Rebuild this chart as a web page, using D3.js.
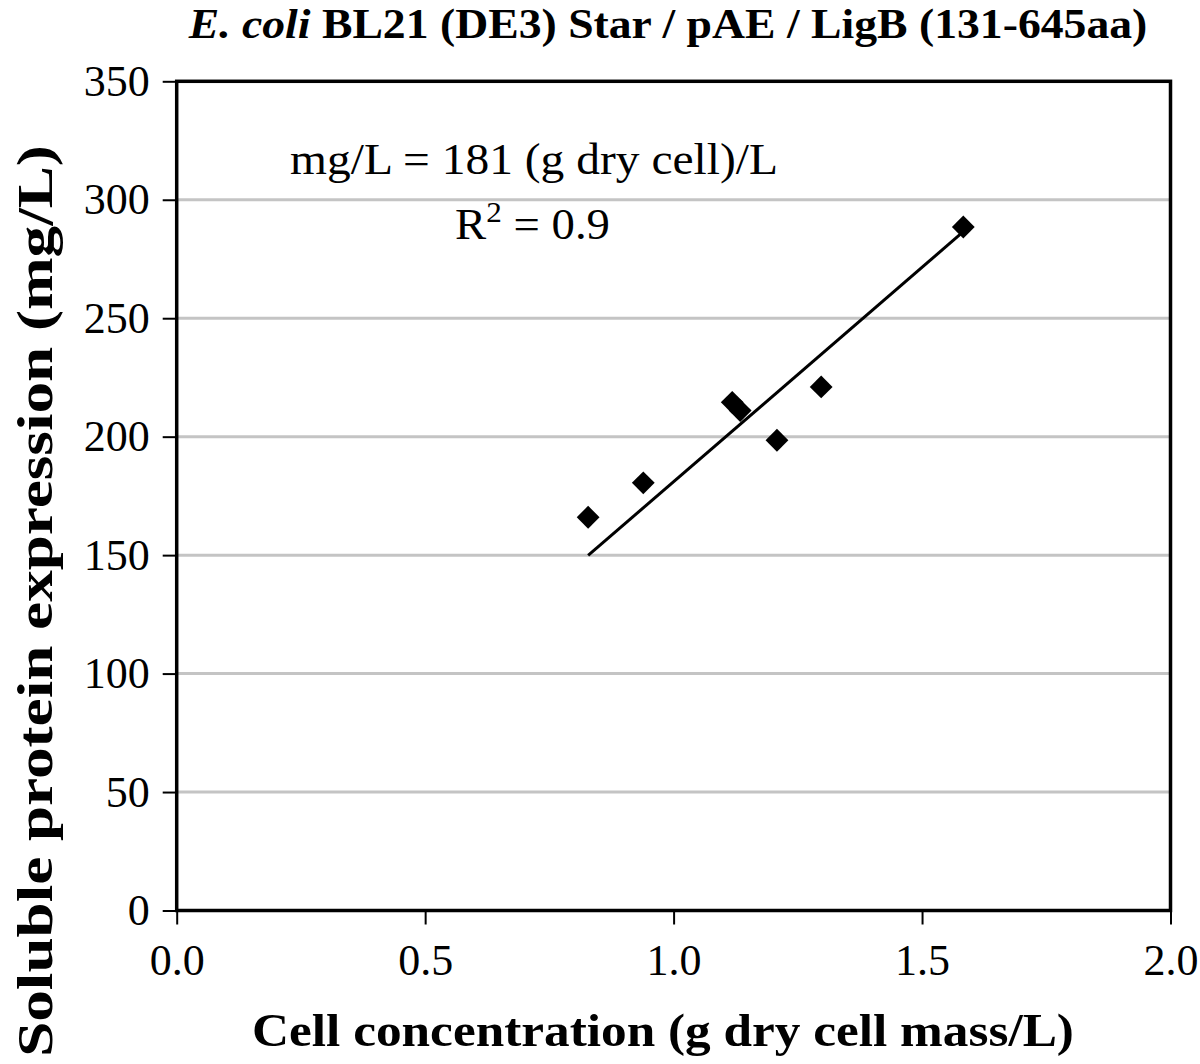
<!DOCTYPE html>
<html><head><meta charset="utf-8">
<script src="https://cdn.jsdelivr.net/npm/d3@7"></script>
<style>body{margin:0;background:#fff}svg{display:block}text{font-family:"Liberation Serif","Times New Roman",serif;fill:#000}</style>
</head><body><svg id="c" width="1200" height="1064"></svg>
<script>
const cellConc = [0.828, 0.939, 1.118, 1.134, 1.208, 1.297, 1.583];
const proteinExpr = [166, 180.5, 214.5, 211, 198.5, 221, 288.5];
const slope = 181;
const xTicks = [0, 0.5, 1.0, 1.5, 2.0];
const yTicks = [0, 50, 100, 150, 200, 250, 300, 350];
const gridTicks = [50, 100, 150, 200, 250, 300];

const svg = d3.select("#c");
const L = 176.7, R = 1170.5, T = 81.3, B = 910.5;
const x = d3.scaleLinear().domain([0, 2]).range([L, R]);
const y = d3.scaleLinear().domain([0, 350]).range([B, T]);

// gridlines
svg.append("g").selectAll("line").data(gridTicks).join("line")
  .attr("x1", L).attr("x2", R).attr("y1", d => y(d)).attr("y2", d => y(d))
  .attr("stroke", "#c4c4c4").attr("stroke-width", 3);

// axes
const yAxis = svg.append("g").attr("transform", `translate(${L},0)`)
  .call(d3.axisLeft(y).tickValues(yTicks).tickSize(14).tickPadding(13).tickFormat(d3.format("d")));
const xAxis = svg.append("g").attr("transform", `translate(0,${B})`)
  .call(d3.axisBottom(x).tickValues(xTicks).tickSize(14).tickPadding(19).tickFormat(d3.format(".1f")));
[yAxis, xAxis].forEach(a => {
  a.select(".domain").remove();
  a.selectAll(".tick line").attr("stroke", "#000").attr("stroke-width", 2);
  a.selectAll(".tick text").style("font-family", '"Liberation Serif", serif').style("font-size", "44px").attr("fill", "#000");
});

// frame
svg.append("rect").attr("x", L).attr("y", T).attr("width", R - L).attr("height", B - T)
  .attr("fill", "none").attr("stroke", "#000").attr("stroke-width", 3.5);

// trendline
const xmin = d3.min(cellConc), xmax = d3.max(cellConc);
svg.append("line").attr("x1", x(xmin)).attr("y1", y(slope * xmin))
  .attr("x2", x(xmax)).attr("y2", y(slope * xmax))
  .attr("stroke", "#000").attr("stroke-width", 3);

// points
const diamond = d3.symbol().type(d3.symbolSquare).size(260);
svg.append("g").selectAll("path").data(cellConc.map((c, i) => [c, proteinExpr[i]])).join("path")
  .attr("d", diamond)
  .attr("transform", d => `translate(${x(d[0])},${y(d[1])}) rotate(45)`)
  .attr("fill", "#000");

// helper: text group centered at (cx, by), stretched along its length to target width
function fitted(cx, by, rot, target, size, weight, build) {
  const g = svg.append("g");
  const t = g.append("text").attr("text-anchor", "middle")
    .style("font-size", size + "px").style("font-weight", weight);
  build(t);
  const w = t.node().getBBox().width;
  g.attr("transform", `translate(${cx},${by}) rotate(${rot}) scale(${target / w},1)`);
  return g;
}

// equation
fitted(534, 174, 0, 488, 45, "normal", t => t.text("mg/L = 181 (g dry cell)/L"));
fitted(532.5, 239, 0, 155, 45, "normal", t => {
  t.append("tspan").text("R");
  t.append("tspan").attr("dy", -17).style("font-size", "30px").text("2");
  t.append("tspan").attr("dy", 17).text(" = 0.9");
});

// title
fitted(668, 38, 0, 960, 43, "bold", t => {
  t.append("tspan").style("font-style", "italic").text("E. coli");
  t.append("tspan").text(" BL21 (DE3) Star / pAE / LigB (131-645aa)");
});

// axis titles
fitted(663, 1046, 0, 822, 47, "bold", t => t.text("Cell concentration (g dry cell mass/L)"));
fitted(52, 601, -90, 912, 51, "bold", t => t.text("Soluble protein expression (mg/L)"));
</script></body></html>
